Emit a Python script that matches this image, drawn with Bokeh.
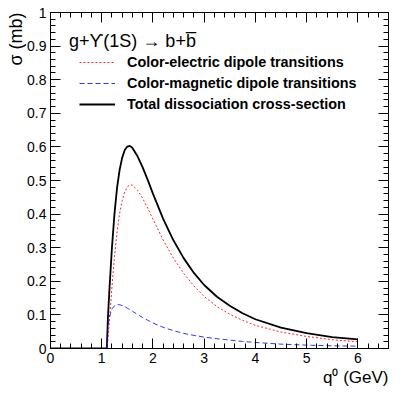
import math
from bokeh.plotting import figure
from bokeh.models import (Range1d, LinearAxis, SingleIntervalTicker, CustomJSTickFormatter,
                          Label, Legend, LegendItem, ColumnDataSource, Title)
from bokeh.embed import file_html
from bokeh.resources import INLINE

# gluon energy q0 (GeV)
q = [0.0, 1.1, 1.12, 1.15, 1.2, 1.25, 1.3, 1.35, 1.4, 1.45, 1.5, 1.55, 1.6, 1.7, 1.8,
     1.9, 2.0, 2.2, 2.4, 2.6, 2.8, 3.0, 3.25, 3.5, 3.75, 4.0, 4.5, 5.0, 5.5, 6.0]
# cross sections (mb)
electric = [0, 0, 0.023, 0.080, 0.183, 0.275, 0.348, 0.402, 0.440, 0.466, 0.481, 0.487,
            0.486, 0.471, 0.447, 0.417, 0.385, 0.323, 0.269, 0.224, 0.186, 0.155, 0.125,
            0.102, 0.084, 0.069, 0.049, 0.036, 0.026, 0.020]
magnetic = [0, 0, 0.065, 0.094, 0.118, 0.127, 0.131, 0.130, 0.128, 0.125, 0.120, 0.116,
            0.111, 0.101, 0.092, 0.084, 0.076, 0.063, 0.053, 0.045, 0.039, 0.034, 0.029,
            0.025, 0.021, 0.018, 0.013, 0.010, 0.008, 0.007]
total = [0, 0, 0.088, 0.174, 0.301, 0.402, 0.479, 0.532, 0.568, 0.591, 0.601, 0.603,
         0.597, 0.572, 0.539, 0.501, 0.461, 0.386, 0.322, 0.269, 0.225, 0.189, 0.154,
         0.127, 0.105, 0.087, 0.062, 0.046, 0.034, 0.027]

series_labels = ["Color-electric dipole transitions",
                 "Color-magnetic dipole transitions",
                 "Total dissociation cross-section"]
header = "g+\u03d2(1S) \u2192 b+b\u0305"
x_title = "q\u2070 (GeV)"
y_title = "\u03c3 (mb)"

FONT = "Liberation Sans"

p = figure(width=415, height=396, output_backend="svg", toolbar_location=None,
           x_range=Range1d(0, 6.6), y_range=Range1d(0, 1),
           x_axis_type=None, y_axis_type=None,
           min_border_left=50, min_border_right=27, min_border_top=12, min_border_bottom=48)
p.outline_line_color = "black"
p.outline_line_width = 1
p.background_fill_color = "white"
p.border_fill_color = "white"

num_fmt = CustomJSTickFormatter(code="return String(Number(tick.toFixed(2)));")
blank_fmt = CustomJSTickFormatter(code="return '';")


def make_axis(interval, show):
    ax = LinearAxis(ticker=SingleIntervalTicker(interval=interval, num_minor_ticks=5),
                    formatter=num_fmt if show else blank_fmt)
    ax.axis_line_color = "black"
    ax.major_tick_line_color = "black"
    ax.minor_tick_line_color = "black"
    ax.major_tick_in = 10
    ax.major_tick_out = 0
    ax.minor_tick_in = 5
    ax.minor_tick_out = 0
    ax.major_label_text_font = FONT
    ax.major_label_text_color = "black"
    if show:
        ax.major_label_text_font_size = "14px"
        ax.major_label_standoff = 4
    else:
        ax.major_label_text_font_size = "0px"
        ax.major_label_standoff = 0
    return ax


p.add_layout(make_axis(1, True), "below")
p.add_layout(make_axis(0.1, True), "left")
p.add_layout(make_axis(1, False), "above")
p.add_layout(make_axis(0.1, False), "right")

p.add_layout(Title(text=x_title, align="right", text_font=FONT, text_font_size="17px",
                   text_font_style="normal", text_color="black", standoff=0), "below")
p.add_layout(Title(text=y_title, align="right", text_font=FONT, text_font_size="18px",
                   text_font_style="normal", text_color="black", standoff=-3), "left")

src = ColumnDataSource(dict(q=q, electric=electric, magnetic=magnetic, total=total))
r_tot = p.line("q", "total", source=src, line_color="black", line_width=1.8)
r_el = p.line("q", "electric", source=src, line_color="#ff0000", line_alpha=0.85,
              line_width=1, line_dash="2 2")
r_mag = p.line("q", "magnetic", source=src, line_color="#0000ff", line_alpha=0.8,
               line_width=1, line_dash="5 3")

legend = Legend(items=[LegendItem(label=series_labels[0], renderers=[r_el]),
                       LegendItem(label=series_labels[1], renderers=[r_mag]),
                       LegendItem(label=series_labels[2], renderers=[r_tot])],
                location=(29, 234), margin=0, padding=0, spacing=1,
                glyph_width=36, glyph_height=20, label_height=20, label_standoff=12,
                label_text_font=FONT, label_text_font_style="bold",
                label_text_font_size="14.4px", label_text_color="black",
                border_line_color=None, background_fill_alpha=0)
p.add_layout(legend)

p.add_layout(Label(x=0.36, y=0.916, text=header, text_baseline="middle",
                   text_font=FONT, text_font_size="18px", text_color="black"))

open("out.html", "w").write(file_html(p, INLINE))
